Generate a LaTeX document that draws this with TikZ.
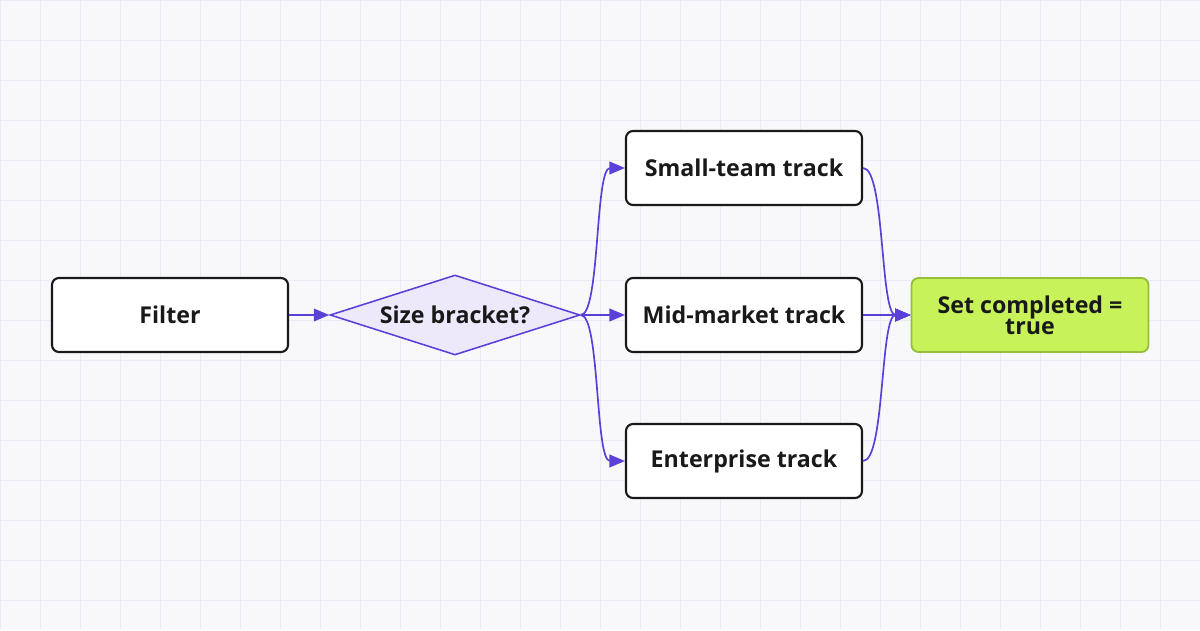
\documentclass[tikz,border=0pt]{standalone}
\usepackage{fontspec}
\setmainfont{Open Sans}
\usetikzlibrary{shapes.geometric,arrows.meta}
\definecolor{bg}{HTML}{F8F8FB}
\definecolor{gridc}{HTML}{ECEBF5}
\definecolor{pur}{HTML}{5B3FD9}
\definecolor{dfill}{HTML}{EDE9FB}
\definecolor{gfill}{HTML}{C8F25A}
\definecolor{gdraw}{HTML}{96BE3A}
\tikzset{
 x=0.025cm,y=-0.025cm,
 box/.style={draw=black!90,line width=1.5pt,rounded corners=5pt,fill=white,minimum width=236*0.025cm,minimum height=74*0.025cm,font=\bfseries\fontsize{16.5}{14}\selectfont,text=black!90,align=center},
 dia/.style={diamond,aspect=3.125,draw=pur,line width=1.1pt,fill=dfill,minimum width=250*0.025cm,minimum height=80*0.025cm,inner sep=0pt,font=\bfseries\fontsize{16.5}{16}\selectfont,text=black!90},
 fin/.style={box,draw=gdraw,fill=gfill,line width=1.3pt,minimum width=237*0.025cm,font=\bfseries\fontsize{16.5}{15}\selectfont},
 arr/.style={draw=pur,line width=1.2pt,-{Triangle[length=11pt,width=9pt]}}
}
\begin{document}
\begin{tikzpicture}
\fill[bg] (0,0) rectangle (1200,630);
\useasboundingbox (0,0) rectangle (1200,630);
\foreach \i in {0,40,...,1200} \draw[gridc,line width=0.6pt] (\i,0) -- (\i,630);
\foreach \j in {0,40,...,630} \draw[gridc,line width=0.6pt] (0,\j) -- (1200,\j);
\node[box] (f) at (170,315) {Filter};
\node[dia] (d) at (455,315) {Size bracket?};
\node[box] (s) at (744,168) {Small-team track};
\node[box] (m) at (744,315) {Mid-market track};
\node[box] (e) at (744,461) {Enterprise track};
\node[fin] (c) at (1030,315) {Set completed =\\ true};
\draw[arr] (f.east) -- (d.west);
\draw[arr] (d.east) .. controls (600,315) and (595,168) .. (s.west);
\draw[arr] (d.east) -- (m.west);
\draw[arr] (d.east) .. controls (600,315) and (595,461) .. (e.west);
\draw[arr] (s.east) .. controls (885,168) and (880,315) .. (c.west);
\draw[arr] (m.east) -- (c.west);
\draw[arr] (e.east) .. controls (885,461) and (880,315) .. (c.west);
\end{tikzpicture}
\end{document}
